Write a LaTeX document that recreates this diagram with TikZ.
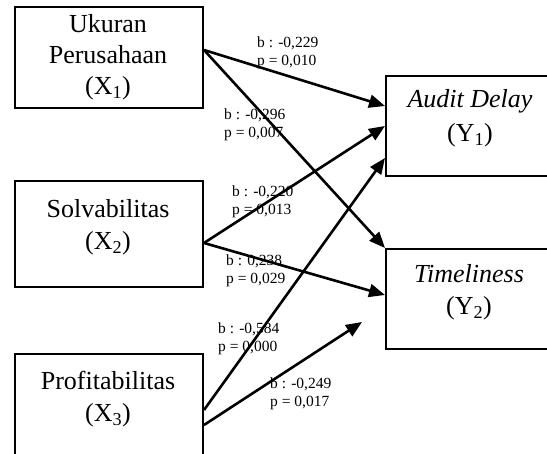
\documentclass[tikz,border=0pt]{standalone}
\usepackage{fontspec}
\setmainfont{Liberation Serif}
\usetikzlibrary{arrows.meta,calc}
\begin{document}
\begin{tikzpicture}[x=1pt,y=-1pt,
  box/.style={draw, line width=2pt, inner sep=0pt, anchor=north west},
  boxtxt/.style={font=\fontsize{26}{32.5}\selectfont, align=center, anchor=base, inner sep=0pt},
  lbl/.style={font=\fontsize{15.5}{18}\selectfont, align=left, anchor=base west, inner sep=0pt},
  conn/.style={line width=2.6pt, -{Triangle[length=16pt,width=13pt]}}]
\useasboundingbox (0,0) rectangle (547,454);
\clip (0,0) rectangle (547,454);
% boxes
\node[box, minimum width=188pt, minimum height=101pt] (x1) at (14,6) {};
\node[box, minimum width=188pt, minimum height=106pt] (x2) at (14,180) {};
\node[box, minimum width=188pt, minimum height=112pt] (x3) at (14,353) {};
\node[box, minimum width=170pt, minimum height=100pt] (y1) at (385,75) {};
\node[box, minimum width=170pt, minimum height=100pt] (y2) at (385,248) {};
% box texts (anchored at the baseline of the last line)
\node[boxtxt, font=\fontsize{26}{31}\selectfont] (tx1) at (108,95) {Ukuran\\Perusahaan\\(X\textsubscript{1})};
\node[boxtxt] (tx2) at (108,250) {Solvabilitas\\(X\textsubscript{2})};
\node[boxtxt] (tx3) at (108,422) {Profitabilitas\\(X\textsubscript{3})};
\node[boxtxt, font=\fontsize{26}{34}\selectfont] (ty1) at (470,142) {\textit{Audit Delay}\\(Y\textsubscript{1})};
\node[boxtxt] (ty2) at (469,315) {\textit{Timeliness}\\(Y\textsubscript{2})};
% connector end points
\coordinate (x1o) at ($(x1.north east)+(0,44)$);
\coordinate (x2o) at ($(x2.north east)+(0,63)$);
\coordinate (x3a) at ($(x3.north east)+(0,57)$);
\coordinate (x3b) at ($(x3.north east)+(0,72)$);
\coordinate (y1a) at ($(y1.north west)+(0,31)$);
\coordinate (y1b) at ($(y1.north west)+(0,51)$);
\coordinate (y1c) at ($(y1.north west)+(0,83)$);
\coordinate (y2a) at ($(y2.north west)+(0,47)$);
\coordinate (y2b) at ($(y2.north west)+(-23,74)$);
% connectors
\draw[conn] (x1o) -- (y1a);
\draw[conn] (x1o) -- (y2.north west);
\draw[conn] (x2o) -- (y1b);
\draw[conn] (x2o) -- (y2a);
\draw[conn] (x3a) -- (y1c);
\draw[conn] (x3b) -- (y2b);
% labels (anchored at the baseline of the last line)
\node[lbl] (l1) at (257,66) {b : -0,229\\p = 0,010};
\node[lbl] (l2) at (224,138) {b : -0,296\\p = 0,007};
\node[lbl] (l3) at (232,215) {b : -0,220\\p = 0,013};
\node[lbl] (l4) at (226,284) {b : 0,238\\p = 0,029};
\node[lbl] (l5) at (218,352) {b : -0,584\\p = 0,000};
\node[lbl] (l6) at (270,407) {b : -0,249\\p = 0,017};
\end{tikzpicture}
\end{document}
